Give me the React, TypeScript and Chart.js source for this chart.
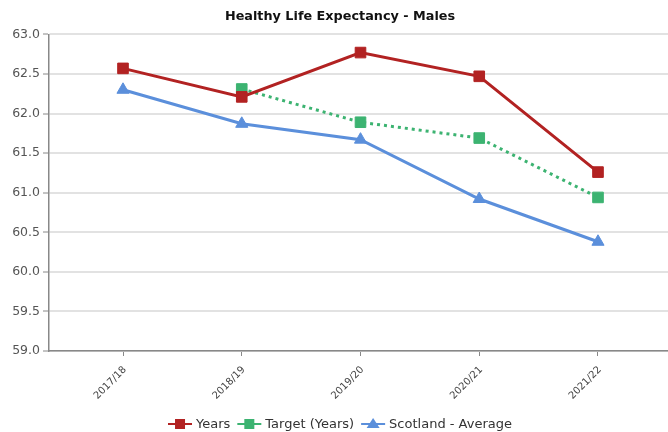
import React, { useEffect, useRef } from "react";
import { Chart, registerables } from "chart.js";

Chart.register(...registerables);

const categories = ["2017/18", "2018/19", "2019/20", "2020/21", "2021/22"];
const yearsValues = [62.57, 62.21, 62.77, 62.47, 61.26];
const targetValues: (number | null)[] = [null, 62.31, 61.89, 61.69, 60.94];
const scotlandValues = [62.3, 61.87, 61.67, 60.92, 60.38];
const seriesLabels = ["Years", "Target (Years)", "Scotland - Average"];
const titleText = "Healthy Life Expectancy - Males";

const RED = "#B22222";
const GREEN = "#3CB371";
const BLUE = "#5B8FDB";

const lineLegend = {
  id: "lineLegend",
  afterDraw(chart: any, _args: any, opts: any) {
    const ctx: CanvasRenderingContext2D = chart.ctx;
    ctx.save();
    ctx.font = opts.font;
    const items = chart.data.datasets.map((ds: any) => ({
      label: ds.label,
      color: ds.borderColor,
      style: ds.pointStyle,
      w: ctx.measureText(ds.label).width,
    }));
    const iconW = 24;
    const gap = 4;
    const itemGap = 7;
    const total =
      items.reduce((s: number, it: any) => s + iconW + gap + it.w, 0) +
      itemGap * (items.length - 1);
    let x = opts.centerX - total / 2;
    const y = opts.y;
    items.forEach((it: any) => {
      ctx.strokeStyle = it.color;
      ctx.lineWidth = 2;
      ctx.setLineDash([]);
      ctx.beginPath();
      ctx.moveTo(x, y);
      ctx.lineTo(x + iconW, y);
      ctx.stroke();
      ctx.fillStyle = it.color;
      const cx = x + iconW / 2;
      if (it.style === "triangle") {
        ctx.beginPath();
        ctx.moveTo(cx, y - 6);
        ctx.lineTo(cx + 6.5, y + 4);
        ctx.lineTo(cx - 6.5, y + 4);
        ctx.closePath();
        ctx.fill();
      } else {
        ctx.fillRect(cx - 5, y - 5, 10, 10);
      }
      ctx.fillStyle = opts.color;
      ctx.textBaseline = "middle";
      ctx.textAlign = "left";
      ctx.fillText(it.label, x + iconW + gap, y + 1);
      x += iconW + gap + it.w + itemGap;
    });
    ctx.restore();
  },
};

export default function App() {
  const canvasRef = useRef<HTMLCanvasElement | null>(null);

  useEffect(() => {
    if (!canvasRef.current) return;
    const toPts = (arr: (number | null)[]) =>
      arr.map((v, i) => ({ x: i, y: v }));
    const chart = new Chart(canvasRef.current, {
      type: "line",
      data: {
        datasets: [
          {
            label: seriesLabels[0],
            data: toPts(yearsValues) as any,
            borderColor: RED,
            backgroundColor: RED,
            borderWidth: 3,
            pointStyle: "rect",
            pointRadius: 7.5,
            pointHoverRadius: 7.5,
            pointBorderWidth: 1,
            pointBorderColor: RED,
            pointBackgroundColor: RED,
          },
          {
            label: seriesLabels[1],
            data: toPts(targetValues) as any,
            borderColor: GREEN,
            backgroundColor: GREEN,
            borderWidth: 3,
            borderDash: [3, 4],
            pointStyle: "rect",
            pointRadius: 7.5,
            pointHoverRadius: 7.5,
            pointBorderWidth: 1,
            pointBorderColor: GREEN,
            pointBackgroundColor: GREEN,
          },
          {
            label: seriesLabels[2],
            data: toPts(scotlandValues) as any,
            borderColor: BLUE,
            backgroundColor: BLUE,
            borderWidth: 3,
            pointStyle: "triangle",
            pointRadius: 7,
            pointHoverRadius: 7,
            pointBorderWidth: 1,
            pointBorderColor: BLUE,
            pointBackgroundColor: BLUE,
          },
        ],
      },
      options: {
        animation: false,
        responsive: false,
        devicePixelRatio: 1,
        layout: { autoPadding: false, padding: { left: 12, right: 0, top: 0, bottom: 0 } },
        scales: {
          x: {
            type: "linear",
            min: -0.6232,
            max: 4.5895,
            afterFit: (s: any) => {
              s.height = 81;
              s.paddingLeft = 0;
              s.paddingRight = 0;
            },
            afterBuildTicks: (s: any) => {
              s.ticks = categories.map((_, i) => ({ value: i }));
            },
            ticks: {
              autoSkip: false,
              minRotation: 45,
              maxRotation: 45,
              padding: 8,
              labelOffset: 2,
              color: "#444",
              font: { family: "DejaVu Sans", size: 10 },
              callback: (v: any) => categories[v as number] ?? "",
            },
            grid: {
              drawOnChartArea: false,
              drawTicks: true,
              tickLength: 5,
              tickColor: "#888",
              lineWidth: 1,
            },
            border: { display: true, color: "#888", width: 1.5 },
          },
          y: {
            min: 59,
            max: 63,
            afterFit: (s: any) => {
              s.width = 37;
            },
            ticks: {
              stepSize: 0.5,
              padding: 3,
              color: "#555",
              font: { family: "DejaVu Sans", size: 12.5 },
              callback: (v: any) => Number(v).toFixed(1),
            },
            grid: {
              color: "#e2e2e2",
              lineWidth: 2,
              tickLength: 6,
              tickColor: "#888",
              tickWidth: 1,
            },
            border: { display: true, color: "#888", width: 1.5 },
          },
        },
        plugins: {
          legend: { display: false },
          tooltip: { enabled: false },
          title: {
            display: true,
            text: titleText,
            color: "#111",
            font: { family: "DejaVu Sans", size: 12.8, weight: "bold" },
            padding: { top: 9, bottom: 10 },
          },
          lineLegend: {
            font: "13px 'DejaVu Sans'",
            color: "#333",
            centerX: 340,
            y: 424,
          },
        } as any,
      },
      plugins: [lineLegend],
    });
    return () => chart.destroy();
  }, []);

  return (
    <div style={{ position: "absolute", left: 0, top: 0, width: 668, height: 432 }}>
      <canvas ref={canvasRef} width={668} height={432} />
    </div>
  );
}
